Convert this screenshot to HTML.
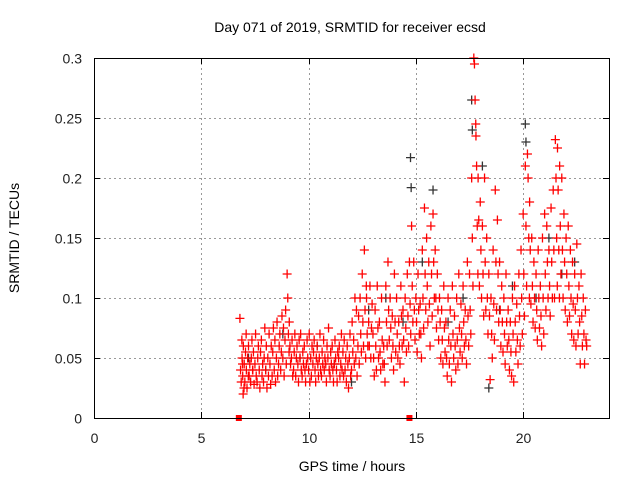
<!DOCTYPE html>
<html><head><meta charset="utf-8"><style>
body{margin:0;background:#fff;}
svg{display:block;font-family:"Liberation Sans",sans-serif;}
</style></head><body>
<svg id="chart" width="640" height="480" viewBox="0 0 640 480" xmlns="http://www.w3.org/2000/svg">
<rect width="640" height="480" fill="#fff"/>
<text x="350" y="32" font-size="14" text-anchor="middle">Day 071 of 2019, SRMTID for receiver ecsd</text>
<text transform="translate(19,238) rotate(-90)" font-size="14" text-anchor="middle">SRMTID / TECUs</text>
<text x="352" y="471" font-size="14" text-anchor="middle">GPS time / hours</text>
<g id="grid"></g>
<g id="ticks"></g>
<g id="black"></g>
<g id="red"></g>
<g id="marks"></g>
<rect x="94.5" y="58.5" width="515" height="360" fill="none" stroke="#000" stroke-width="1"/>
</svg>
<script>
const xTicks=[0,5,10,15,20];
const yTicks=[0,0.05,0.1,0.15,0.2,0.25,0.3];
const yTickLabels=["0","0.05","0.1","0.15","0.2","0.25","0.3"];
const gapTimes=[6.75,14.7];
const redBinStart=6.8;
const redBinStep=0.1;
const redVals=[
[.083,.04,.03,.065,.045,.02],[.05,.035,.06,.025],[.045,.03,.055,.07],[.04,.025,.05,.035],[.06,.035,.045],
[.03,.05,.065,.04],[.04,.055,.028],[.045,.07,.035],[.03,.05,.06],[.04,.025,.055],
[.065,.035,.045],[.03,.05,.075],[.04,.06,.025],[.05,.035,.07],[.045,.028,.06],
[.035,.055,.075],[.04,.065,.03],[.05,.08,.035],[.045,.06,.07],[.04,.055,.085],
[.05,.075,.035],[.065,.09,.045],[.12,.1,.07,.055],[.08,.06,.045],[.05,.065,.035],
[.04,.055,.07],[.035,.05,.06],[.045,.03,.065],[.05,.07,.04],[.035,.055,.045],
[.06,.04,.03],[.045,.065,.05],[.04,.07,.03],[.05,.035,.06],[.045,.055,.065],
[.04,.03,.05],[.06,.045,.035],[.05,.07,.04],[.035,.055,.045],[.065,.04,.05],
[.045,.03,.06],[.05,.075,.04],[.035,.055,.045],[.06,.04,.03],[.045,.065,.05],
[.04,.03,.055],[.05,.06,.035],[.045,.07,.04],[.055,.035,.065],[.04,.05,.03],
[.06,.045,.025],[.05,.07,.035],[.04,.08,.055],[.065,.045,.1],[.05,.09,.035],
[.06,.085,.045],[.1,.07,.055],[.12,.08,.06],[.14,.09,.05,.11],[.1,.07,.06],
[.08,.06,.11],[.05,.075,.095],
[.07,.05,.035],[.09,.06,.04],[.11,.075,.05],[.08,.055,.04],[.1,.065,.045],[.06,.045,.03],
[.11,.08,.06],[.13,.09,.065],[.1,.075,.05],[.085,.06,.04],[.12,.08,.055],
[.1,.07,.05],[.08,.06,.045],[.11,.085,.06],[.09,.065,.03],[.1,.075,.055],
[.12,.085,.06],[.13,.095,.07],[.16,.11,.08],[.13,.09,.065],[.1,.08,.055],
[.12,.09,.07],[.095,.07,.05],[.14,.1,.075],[.175,.12,.09],[.15,.11,.08],
[.13,.095,.06],[.16,.12,.085],[.17,.13,.1],[.14,.1,.075],[.12,.09,.065],
[.1,.08,.05],[.09,.065,.045],[.11,.075,.055],[.08,.05,.035],[.1,.065,.045],
[.09,.06,.03],[.11,.07,.05],[.085,.06,.04],[.1,.065,.045],[.12,.075,.055],
[.095,.07,.05],[.11,.08,.06],[.09,.065,.045],[.13,.085,.06],[.12,.09,.07],
[.2,.15,.11],[.3,.295,.265,.245],[.235,.21,.16,.12],[.2,.165,.11],[.18,.14,.1],
[.16,.12,.085],[.2,.13,.09],[.15,.1,.07],[.12,.085,.032],[.1,.07,.05],
[.14,.095,.065],[.19,.13,.09],[.165,.12,.08],[.13,.09,.06],[.11,.08,.055],
[.1,.07,.045],[.12,.08,.06],[.09,.065,.04],[.08,.055,.035],[.1,.07,.03],
[.11,.08,.055],[.095,.065,.045],[.12,.085,.06],[.14,.1,.07],[.17,.12,.085],
[.21,.16,.11],[.22,.2,.15,.1],[.18,.14,.095],[.15,.11,.08],[.13,.1,.075],
[.12,.09,.065],[.14,.1,.075],[.11,.085,.06],[.15,.1,.07],[.17,.12,.09],
[.16,.13,.1],[.14,.11,.085],[.175,.13,.1],[.19,.14,.1],[.232,.2,.15,.11],
[.225,.19,.14,.1],[.21,.16,.12],[.2,.14,.1],[.17,.13,.09],[.15,.12,.08],
[.16,.11,.085],[.14,.1,.07],[.13,.095,.065],[.12,.09,.06],[.145,.1,.07],
[.11,.08,.045],[.12,.085,.06],[.1,.07,.045],[.09,.065,.06]
];
const blackBins=[7.2,8.0,8.8,9.6,10.4,11.2,12.0,12.8,13.6,14.4,14.75,15.3,15.8,16.5,17.2,17.6,18.1,18.4,18.9,19.5,20.1,20.6,21.2,21.8,22.4];
const blackVals=[[.05],[.04],[.07],[.05],[.06],[.045],[.03],[.09],[.1],[.08],[.217,.192],[.13],[.19],[.08],[.1],[.265,.24],[.21],[.025],[.09],[.11],[.245,.23],[.1],[.15],[.12],[.13]];

const L=94,R=609,T=58,B=418,XMAX=24,YMAX=0.3;
const xs=t=>L+(t/XMAX)*(R-L);
const ys=v=>B-(v/YMAX)*(B-T);
const NS="http://www.w3.org/2000/svg";
function mk(tag,attrs,parent){const e=document.createElementNS(NS,tag);for(const k in attrs)e.setAttribute(k,attrs[k]);parent.appendChild(e);return e;}
const grid=document.getElementById('grid'),ticks=document.getElementById('ticks');
xTicks.forEach(t=>{
  const x=Math.round(xs(t))+0.5;
  if(t>0){const g=mk('line',{x1:x,x2:x,y1:T,y2:B,stroke:'#999','stroke-dasharray':'2,3'},grid);
  
  }
  mk('line',{x1:x,x2:x,y1:B,y2:B-6,stroke:'#000'},ticks);
  mk('line',{x1:x,x2:x,y1:T,y2:T+6,stroke:'#000'},ticks);
  const lb=mk('text',{x:x,y:B+25,'font-size':14,'text-anchor':'middle',fill:'#222'},ticks);lb.textContent=t;
  
  
});
yTicks.forEach((v,i)=>{
  const y=Math.round(ys(v))+0.5;
  if(v>0){const g=mk('line',{x1:L,x2:R,y1:y,y2:y,stroke:'#999','stroke-dasharray':'2,3'},grid);
  
  }
  mk('line',{x1:L,x2:L+6,y1:y,y2:y,stroke:'#000'},ticks);
  mk('line',{x1:R,x2:R-6,y1:y,y2:y,stroke:'#000'},ticks);
  const lb=mk('text',{x:L-12,y:y+5,'font-size':14,'text-anchor':'end',fill:'#222'},ticks);lb.textContent=yTickLabels[i];
  
  
});
function plus(t,v,col,parent){
  const x=xs(t),y=ys(v);
  const p=mk('path',{d:`M${x-4.5},${y}H${x+4.5}M${x},${y-4.5}V${y+4.5}`,stroke:col,'stroke-width':1.3,fill:'none'},parent);
  
  
}
const bg=document.getElementById('black'),rg=document.getElementById('red');
blackBins.forEach((t,i)=>blackVals[i].forEach((v,j)=>plus(t+j*0.03,v,'#333',bg)));
redVals.forEach((arr,i)=>{const t=redBinStart+i*redBinStep;arr.forEach((v,j)=>plus(t+j*0.03,v,'#f00',rg));});
const mg=document.getElementById('marks');
gapTimes.forEach(t=>{const r=mk('rect',{x:xs(t)-3,y:B-3,width:6,height:6,fill:'#f00'},mg);

});
</script>
</body></html>
